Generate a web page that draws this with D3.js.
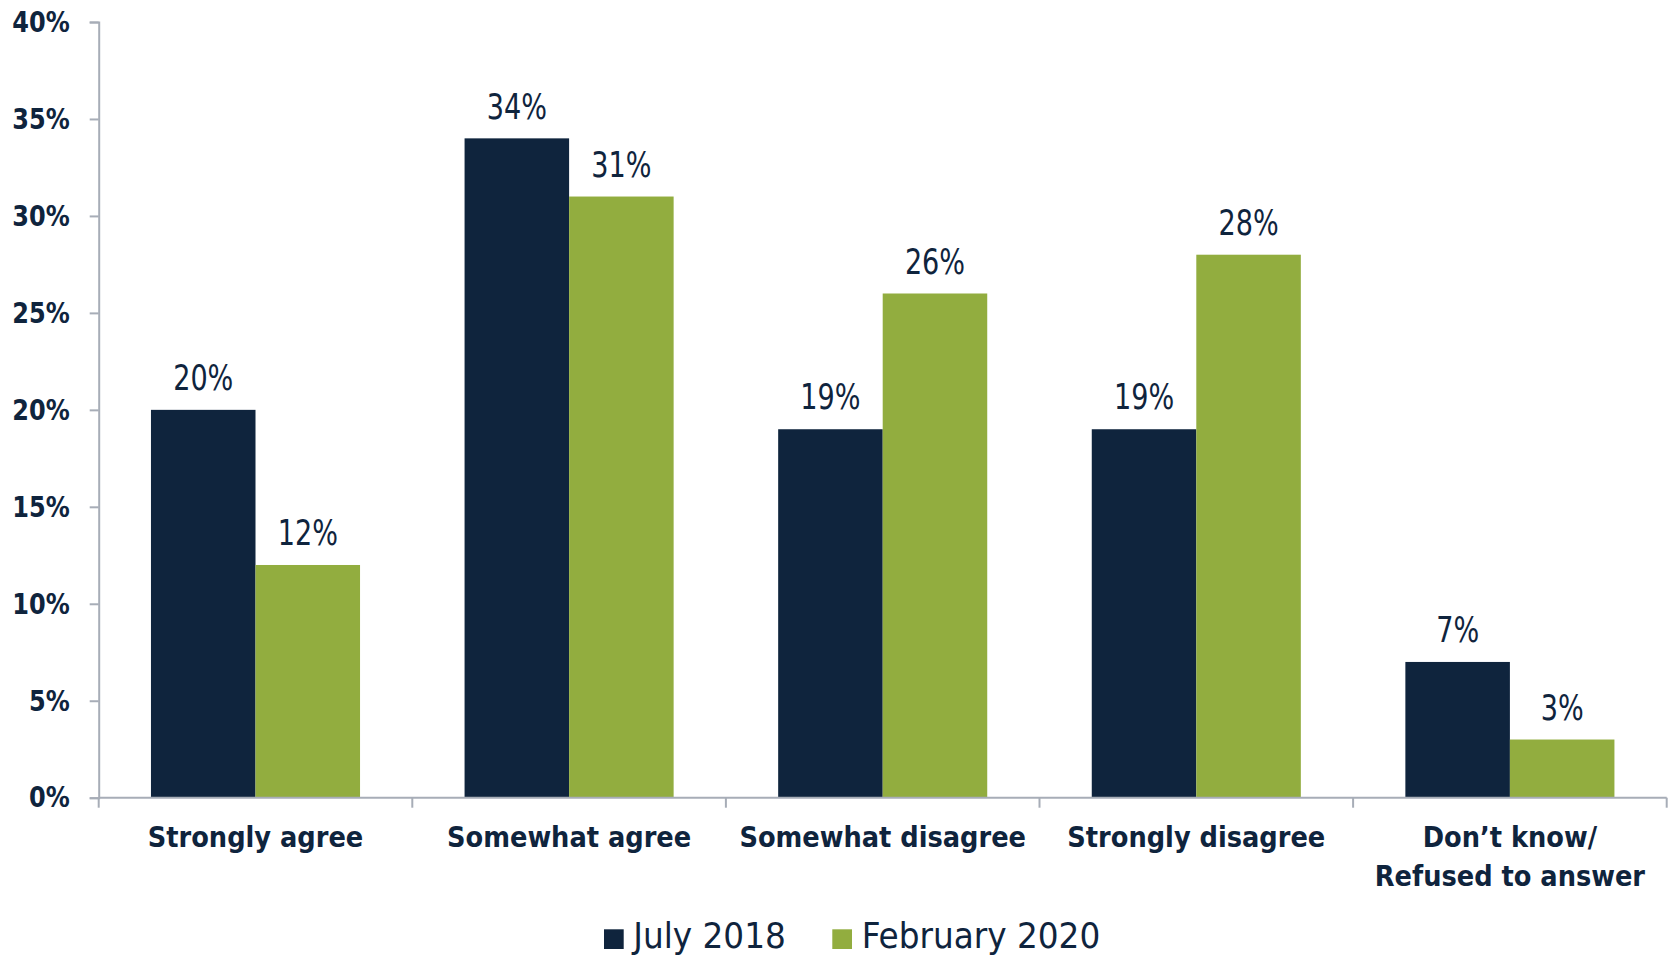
<!DOCTYPE html>
<html>
<head>
<meta charset="utf-8">
<script src="https://cdn.jsdelivr.net/npm/d3@7"></script>
<style>
  html, body { margin: 0; padding: 0; background: #ffffff; }
  svg { display: block; }
  text { font-family: "DejaVu Sans Condensed", "DejaVu Sans", sans-serif; fill: #0f243d; }
</style>
</head>
<body>
<svg id="chart" width="1669" height="956"></svg>
<script>
const categories = ["Strongly agree", "Somewhat agree", "Somewhat disagree", "Strongly disagree", "Don\u2019t know/\nRefused to answer"];
const seriesNames = ["July 2018", "February 2020"];
const july2018 = [20, 34, 19, 19, 7];
const february2020 = [12, 31, 26, 28, 3];
const yTicks = [0, 5, 10, 15, 20, 25, 30, 35, 40];
const colors = ["#0f243d", "#92ad3f"];

const svg = d3.select("#chart");
const mLeft = 98.7, mRight = 1666.7, mTop = 22, mBottom = 797.7;
const axisColor = "#a7adb7";

const x = d3.scaleBand().domain(categories).range([mLeft, mRight]).paddingInner(0).paddingOuter(0);
const bw = x.bandwidth();
const xs = d3.scaleBand().domain(seriesNames).range([bw / 6, bw * 5 / 6]).padding(0);
const y = d3.scaleLinear().domain([0, 40]).range([mBottom, mTop]);

function drawText(parent, tx, ty, str, size, weight, anchor, sx) {
  return parent.append("text")
    .attr("transform", `translate(${tx},${ty}) scale(${sx},1)`)
    .attr("text-anchor", anchor)
    .attr("font-size", size)
    .attr("font-weight", weight)
    .text(str);
}

const data = categories.map((c, i) => ({ cat: c, vals: [july2018[i], february2020[i]] }));

// bars
const g = svg.append("g");
data.forEach(d => {
  d.vals.forEach((v, j) => {
    const bx = x(d.cat) + xs(seriesNames[j]);
    g.append("rect")
      .attr("x", bx)
      .attr("y", y(v))
      .attr("width", xs.bandwidth())
      .attr("height", y(0) - y(v))
      .attr("fill", colors[j]);
    drawText(g, bx + xs.bandwidth() / 2, y(v) - 19.8, v + "%", 35, "normal", "middle", 0.86);
  });
});

// y axis
const yAxis = svg.append("g").attr("transform", `translate(${mLeft},0)`)
  .call(d3.axisLeft(y).tickValues(yTicks).tickFormat(d => d + "%").tickSize(9).tickPadding(20));
yAxis.select(".domain").attr("stroke", axisColor).attr("stroke-width", 2);
yAxis.selectAll(".tick line").attr("stroke", axisColor).attr("stroke-width", 2);
yAxis.selectAll(".tick text")
  .attr("x", 0)
  .attr("transform", "translate(-29,0) scale(0.92,1)")
  .attr("font-size", 29).attr("font-weight", "bold")
  .attr("font-family", "'DejaVu Sans Condensed', 'DejaVu Sans', sans-serif")
  .attr("fill", "#0f243d");

// x axis line and boundary ticks
const xg = svg.append("g");
xg.append("line").attr("x1", mLeft).attr("x2", mRight).attr("y1", mBottom).attr("y2", mBottom)
  .attr("stroke", axisColor).attr("stroke-width", 2);
const bounds = categories.map(c => x(c)).concat([x(categories[categories.length - 1]) + bw]);
xg.selectAll("line.bt").data(bounds).enter().append("line")
  .attr("class", "bt")
  .attr("x1", d => d).attr("x2", d => d)
  .attr("y1", mBottom).attr("y2", mBottom + 10)
  .attr("stroke", axisColor).attr("stroke-width", 2);

// category labels
categories.forEach(c => {
  c.split("\n").forEach((l, k) => {
    drawText(xg, x(c) + bw / 2, 847 + k * 39, l, 29, "bold", "middle", 0.985);
  });
});

// legend
const legend = svg.append("g");
const legendItems = [
  { name: seriesNames[0], color: colors[0], sx: 604, tx: 633.3 },
  { name: seriesNames[1], color: colors[1], sx: 832.3, tx: 861.7 }
];
legendItems.forEach(it => {
  legend.append("rect").attr("x", it.sx).attr("y", 929.3).attr("width", 19.7).attr("height", 19.7).attr("fill", it.color);
  drawText(legend, it.tx, 948, it.name, 35, "normal", "start", 1.04);
});
</script>
</body>
</html>
